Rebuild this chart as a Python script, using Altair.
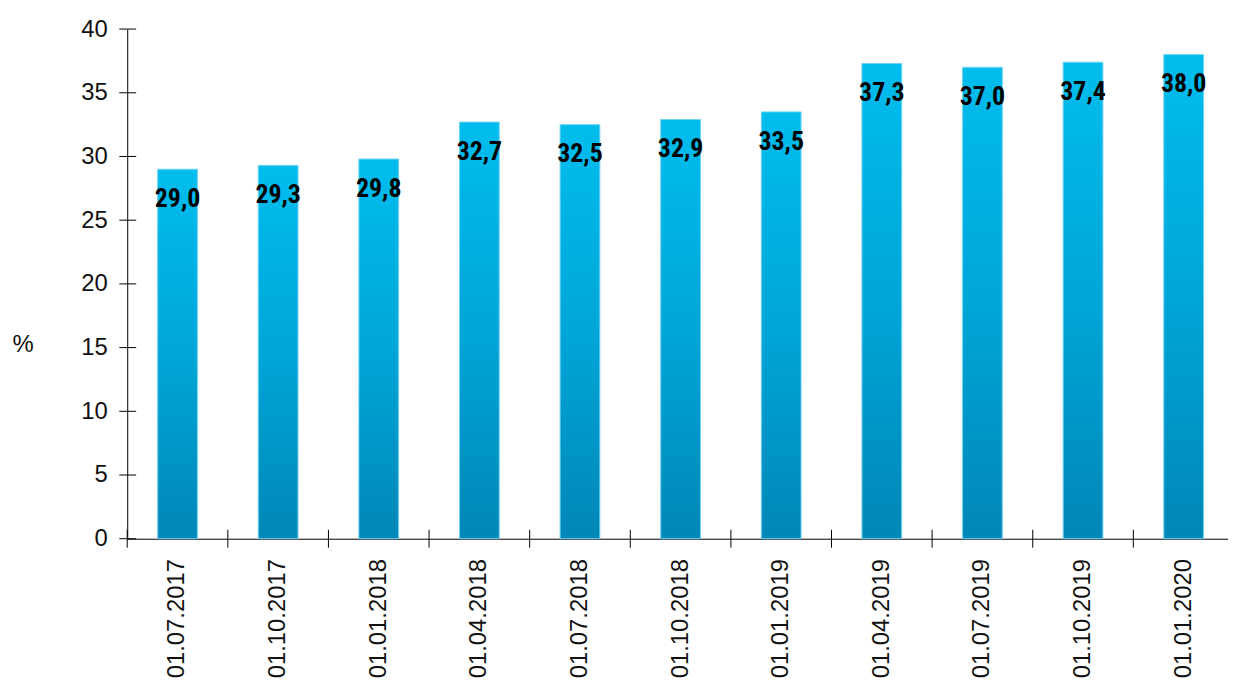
import altair as alt
import pandas as pd

dates = ["01.07.2017", "01.10.2017", "01.01.2018", "01.04.2018", "01.07.2018",
         "01.10.2018", "01.01.2019", "01.04.2019", "01.07.2019", "01.10.2019",
         "01.01.2020"]
values = [29.0, 29.3, 29.8, 32.7, 32.5, 32.9, 33.5, 37.3, 37.0, 37.4, 38.0]
y_ticks = [0, 5, 10, 15, 20, 25, 30, 35, 40]

df = pd.DataFrame({"date": dates, "value": values})
df["label"] = [f"{v:.1f}".replace(".", ",") for v in values]
ticks_df = pd.DataFrame({"t": y_ticks})

W, H = 1114, 513

x_scale = alt.Scale(paddingInner=0, paddingOuter=0)
x_enc = alt.X("date:N", sort=dates, scale=x_scale,
              axis=alt.Axis(title=None, labelAngle=-90, labelAlign="right",
                            labelBaseline="middle", labelFontSize=24,
                            labelFont="Liberation Sans", labelColor="#111",
                            labelPadding=20, ticks=False, domainColor="#000",
                            domainWidth=1, grid=False, labelOverlap=False))
y_scale = alt.Scale(domain=[0, 40], nice=False)
y_enc = alt.Y("value:Q", scale=y_scale,
              axis=alt.Axis(title="%", titleAngle=0, titleAlign="left",
                            titleBaseline="middle", titleX=-116, titleY=318,
                            titleFontSize=24, titleFont="Liberation Sans",
                            titleFontWeight="normal", titleColor="#111",
                            values=y_ticks, labelFontSize=24,
                            labelFont="Liberation Sans", labelColor="#111",
                            labelPadding=20, ticks=False, domainColor="#000",
                            grid=False))

gradient = alt.Gradient(
    gradient="linear",
    stops=[alt.GradientStop(color="#00BDEE", offset=0),
           alt.GradientStop(color="#00A6D8", offset=0.5),
           alt.GradientStop(color="#0087B7", offset=1)],
    x1=0, x2=0, y1=0, y2=1)

bars = alt.Chart(df).mark_bar(width=40, color=gradient, stroke="#6FD3F2",
                              strokeWidth=1).encode(x=x_enc, y=y_enc)

labels = alt.Chart(df).mark_text(
    baseline="middle", align="center", dy=30, fontSize=26, fontWeight="bold",
    font="Liberation Sans Narrow, Arial Narrow, Roboto Condensed, sans-serif",
    color="#000").encode(x=alt.X("date:N", sort=dates),
                         y=alt.Y("value:Q"),
                         text="label:N")

yticks = alt.Chart(ticks_df).mark_rule(color="#000", strokeWidth=1).encode(
    y=alt.Y("t:Q", scale=y_scale), x=alt.value(-8), x2=alt.value(9))

xticks = alt.Chart(df).mark_rule(color="#000", strokeWidth=1).encode(
    x=alt.X("date:N", sort=dates, bandPosition=0),
    y=alt.value(H - 9), y2=alt.value(H + 9))

chart = alt.layer(bars, labels, yticks, xticks).properties(
    width=W, height=H, background="white",
    autosize=alt.AutoSizeParams(type="none"),
    padding={"left": 120, "top": 19, "right": -6, "bottom": 140},
).configure_view(strokeWidth=0, stroke="transparent").configure_axis(grid=False)

chart.save("out.html", embed_options={"renderer": "svg", "actions": False})
